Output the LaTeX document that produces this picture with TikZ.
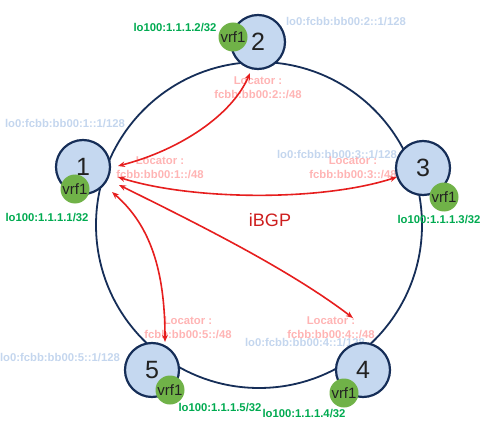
\documentclass[tikz,border=0pt]{standalone}
\usepackage{fontspec}
\setmainfont{Liberation Sans}
\usetikzlibrary{arrows.meta}
\definecolor{navy}{RGB}{22,46,88}
\definecolor{nodefill}{RGB}{197,216,240}
\definecolor{vrfgreen}{RGB}{112,178,72}
\definecolor{lgreen}{RGB}{0,170,80}
\definecolor{lblue}{RGB}{196,214,238}
\definecolor{lpink}{RGB}{255,180,180}
\definecolor{arrred}{RGB}{230,30,30}
\definecolor{txtred}{RGB}{205,30,30}
\definecolor{numgray}{RGB}{34,34,34}
\tikzset{
  router/.style={circle, draw=navy, line width=2.2pt, fill=nodefill, minimum size=54pt, inner sep=0pt,
    font=\fontsize{25}{25}\selectfont, text=numgray},
  vrf/.style={circle, fill=vrfgreen, minimum size=29pt, inner sep=0pt,
    font=\fontsize{15}{15}\selectfont, text=numgray},
  lolab/.style={inner sep=0pt, font=\bfseries\fontsize{11.3}{14}\selectfont, text=lgreen},
  bluelab/.style={inner sep=0pt, font=\bfseries\fontsize{11.3}{14}\selectfont, text=lblue},
  loclab/.style={inner sep=0pt, align=center, font=\bfseries\fontsize{11.3}{14}\selectfont, text=lpink},
  ibgp/.style={draw=arrred, line width=1.6pt, {Stealth[length=7pt,width=5.5pt]}-{Stealth[length=7pt,width=5.5pt]}},
  ring/.style={draw=navy, line width=1.8pt}
}
\begin{document}
\begin{tikzpicture}[x=1pt,y=-1pt]
\useasboundingbox (0,0) rectangle (482,433);
% ring
\coordinate (c) at (259,225);
\draw[ring] (c) circle[radius=163];
% labels
\node[bluelab] (b1) at (65,124) {lo0:fcbb:bb00:1::1/128};
\node[bluelab] (b2) at (346,22) {lo0:fcbb:bb00:2::1/128};
\node[bluelab] (b3) at (337,155) {lo0:fcbb:bb00:3::1/128};
\node[bluelab] (b5) at (60,358) {lo0:fcbb:bb00:5::1/128};
\node[bluelab] (b4) at (305,343) {lo0:fcbb:bb00:4::1/128};
\node[loclab] (l2) at (258,88) {Locator :\\fcbb:bb00:2::/48};
\node[loclab] (l1) at (160,168) {Locator :\\fcbb:bb00:1::/48};
\node[loclab] (l3) at (353,168) {Locator :\\fcbb:bb00:3::/48};
\node[loclab] (l5) at (188,328) {Locator :\\fcbb:bb00:5::/48};
\node[loclab] (l4) at (331,328) {Locator :\\fcbb:bb00:4::/48};
\node[inner sep=0pt, font=\fontsize{18}{18}\selectfont, text=txtred] (ib) at (270,220) {iBGP};
% arrow ends
\coordinate (e1a) at (118,166);
\coordinate (e1b) at (118,177);
\coordinate (e1c) at (119,185);
\coordinate (e1d) at (112,192);
\coordinate (e2) at (250,73);
\coordinate (e3) at (397,177);
\coordinate (e4) at (353,318);
\coordinate (e5) at (165,342);
\draw[ibgp] (e1a) .. controls (180,150) and (232,115) .. (e2);
\draw[ibgp] (e1b) .. controls (190,200) and (320,202) .. (e3);
\draw[ibgp] (e1c) .. controls (200,225) and (290,270) .. (e4);
\draw[ibgp] (e1d) .. controls (150,225) and (165,270) .. (e5);
% routers
\node[router] (n1) at (83,167) {1};
\node[router] (n2) at (258,42) {2};
\node[router] (n3) at (423,168) {3};
\node[router] (n4) at (363,370) {4};
\node[router] (n5) at (152,370) {5};
\node[vrf] (v1) at (75,189) {vrf1};
\node[vrf] (v2) at (233,37) {vrf1};
\node[vrf] (v3) at (444,197) {vrf1};
\node[vrf] (v4) at (344,393) {vrf1};
\node[vrf] (v5) at (170,390) {vrf1};
\node[lolab] (g1) at (47,218) {lo100:1.1.1.1/32};
\node[lolab] (g2) at (175,28) {lo100:1.1.1.2/32};
\node[lolab] (g3) at (439,220) {lo100:1.1.1.3/32};
\node[lolab] (g4) at (304,414) {lo100:1.1.1.4/32};
\node[lolab] (g5) at (220,408) {lo100:1.1.1.5/32};
\end{tikzpicture}
\end{document}
